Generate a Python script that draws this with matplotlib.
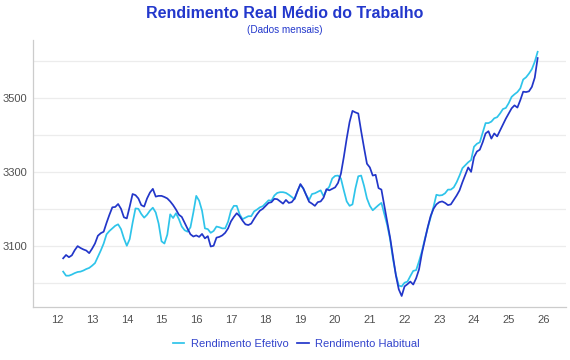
import numpy as np
import pandas as pd
import matplotlib
matplotlib.use("Agg")
import matplotlib.pyplot as plt
from matplotlib.ticker import MultipleLocator

plt.rcParams['font.family'] = ['Liberation Sans', 'DejaVu Sans']

# monthly data, Mar 2012 .. Nov 2025
habitual = (
    [3066, 3075, 3069, 3074, 3088, 3099, 3094, 3090, 3087, 3080] +                       # 2012
    [3092, 3106, 3127, 3134, 3138, 3162, 3184, 3204, 3205, 3213, 3200, 3177] +           # 2013
    [3174, 3206, 3240, 3237, 3228, 3210, 3206, 3228, 3244, 3254, 3233, 3235] +           # 2014
    [3235, 3232, 3228, 3220, 3210, 3198, 3184, 3178, 3162, 3146, 3131, 3125] +           # 2015
    [3128, 3124, 3132, 3120, 3126, 3098, 3100, 3122, 3124, 3128, 3135, 3147] +           # 2016
    [3166, 3178, 3188, 3180, 3168, 3158, 3156, 3160, 3173, 3185, 3195, 3200] +           # 2017
    [3208, 3216, 3218, 3227, 3226, 3220, 3214, 3224, 3216, 3218, 3228, 3248] +           # 2018
    [3267, 3255, 3237, 3219, 3214, 3208, 3218, 3220, 3230, 3253, 3250, 3254] +           # 2019
    [3258, 3270, 3295, 3340, 3390, 3435, 3465, 3461, 3458, 3410, 3365, 3322] +           # 2020
    [3312, 3290, 3292, 3256, 3252, 3208, 3165, 3122, 3070, 3020, 2982, 2964] +           # 2021
    [2990, 2996, 3003, 2995, 3012, 3036, 3080, 3115, 3150, 3180, 3200, 3212] +           # 2022
    [3218, 3220, 3216, 3210, 3212, 3224, 3236, 3250, 3272, 3292, 3312, 3300] +           # 2023
    [3340, 3355, 3360, 3380, 3404, 3410, 3390, 3404, 3396, 3412, 3428, 3444] +           # 2024
    [3458, 3472, 3480, 3474, 3494, 3517, 3516, 3518, 3530, 3555, 3608]                   # 2025
)

efetivo = (
    [3030, 3019, 3019, 3022, 3026, 3029, 3030, 3033, 3037, 3040] +                       # 2012
    [3046, 3053, 3070, 3087, 3106, 3131, 3140, 3147, 3154, 3158, 3145, 3120] +           # 2013
    [3100, 3118, 3162, 3201, 3200, 3186, 3176, 3184, 3195, 3203, 3190, 3160] +           # 2014
    [3112, 3106, 3130, 3185, 3175, 3188, 3172, 3152, 3142, 3138, 3150, 3190] +           # 2015
    [3235, 3222, 3195, 3147, 3145, 3135, 3140, 3152, 3150, 3147, 3147, 3165] +           # 2016
    [3195, 3208, 3208, 3185, 3172, 3176, 3180, 3180, 3193, 3198, 3204, 3207] +           # 2017
    [3215, 3223, 3222, 3236, 3243, 3245, 3245, 3243, 3238, 3232, 3226, 3248] +           # 2018
    [3265, 3255, 3238, 3224, 3240, 3242, 3246, 3250, 3234, 3250, 3260, 3282] +           # 2019
    [3289, 3290, 3282, 3250, 3220, 3208, 3212, 3255, 3288, 3290, 3262, 3228] +           # 2020
    [3208, 3196, 3203, 3210, 3216, 3186, 3156, 3118, 3064, 3022, 2992, 2990] +           # 2021
    [3000, 3003, 3018, 3032, 3034, 3058, 3085, 3118, 3148, 3176, 3205, 3238] +           # 2022
    [3236, 3237, 3242, 3252, 3252, 3258, 3272, 3290, 3310, 3318, 3326, 3332] +           # 2023
    [3368, 3376, 3380, 3406, 3432, 3432, 3436, 3445, 3448, 3458, 3470, 3473] +           # 2024
    [3486, 3503, 3510, 3516, 3526, 3550, 3556, 3566, 3578, 3598, 3625]                   # 2025
)

year_ticks = list(range(12, 27))

dates = pd.date_range('2012-03-01', periods=len(habitual), freq='MS')
x = dates.year - 2000 + (dates.month - 1) / 12

c_efetivo = '#2ec4ea'
c_habitual = '#2236c9'
c_title = '#2338cc'

fig = plt.figure(figsize=(5.7, 3.6), dpi=100)
ax = fig.add_axes([0.058, 0.147, 0.935, 0.742])

ax.plot(x, efetivo, color=c_efetivo, lw=1.25, label='Rendimento Efetivo')
ax.plot(x, habitual, color=c_habitual, lw=1.25, label='Rendimento Habitual')

ax.set_xlim(11.3, 26.65)
ax.set_ylim(2934, 3657)
ax.set_xticks(year_ticks)
ax.set_xticklabels([str(t) for t in year_ticks])
ax.yaxis.set_major_locator(MultipleLocator(200, offset=100))
ax.yaxis.set_minor_locator(MultipleLocator(100))
ax.grid(axis='y', which='both', color='#ececec', lw=0.9)
ax.set_axisbelow(True)
ax.tick_params(axis='both', which='both', length=0, labelsize=8, colors='#505050')
ax.tick_params(axis='y', pad=4)
ax.tick_params(axis='x', pad=6)

for s in ['top', 'right']:
    ax.spines[s].set_visible(False)
for s in ['left', 'bottom']:
    ax.spines[s].set_color('#cccccc')
    ax.spines[s].set_linewidth(0.9)

fig.text(0.5, 0.963, 'Rendimento Real Médio do Trabalho', ha='center', va='center',
         fontsize=11.5, fontweight='bold', color=c_title)
fig.text(0.5, 0.918, '(Dados mensais)', ha='center', va='center', fontsize=7.2, color=c_title)

leg = fig.legend(loc='center', bbox_to_anchor=(0.52, 0.045), ncol=2, frameon=False,
                 fontsize=8, handlelength=1.0, handletextpad=0.6, columnspacing=0.8)
for t in leg.get_texts():
    t.set_color('#3344cc')

fig.savefig('out.png', dpi=100)
